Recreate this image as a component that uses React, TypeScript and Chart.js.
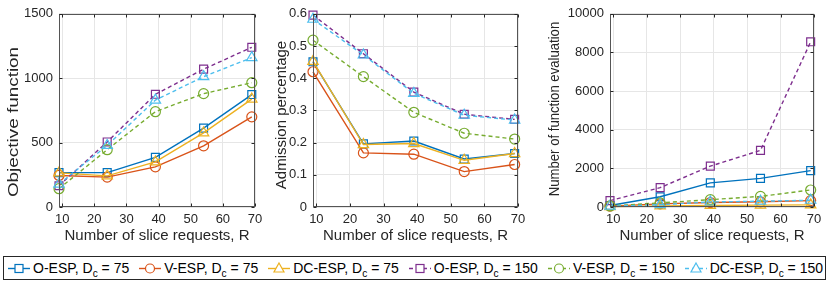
import React, { useEffect, useRef } from 'react';
import { Chart, registerables } from 'chart.js';

Chart.register(...registerables);

// ---------------- data ----------------
const xValues = [9, 24, 39, 54, 69];
const xTicks = [10, 20, 30, 40, 50, 60, 70];

const seriesNames = ['O-ESP', 'V-ESP', 'DC-ESP', 'O-ESP', 'V-ESP', 'DC-ESP'];
const dcValues = ['75', '75', '75', '150', '150', '150'];
const seriesColors = ['#0072BD', '#D95319', '#EDB120', '#7E2F8E', '#77AC30', '#4DBEEE'];
const seriesMarkers = ['rect', 'circle', 'triangle', 'rect', 'circle', 'triangle'];
const seriesDashed = [false, false, false, true, true, true];

// Objective function
const objO75 = [267, 267, 385, 612, 873];
const objV75 = [245, 232, 312, 475, 700];
const objDC75 = [265, 242, 350, 575, 838];
const objO150 = [165, 505, 875, 1070, 1240];
const objV150 = [142, 445, 740, 880, 965];
const objDC150 = [178, 478, 830, 1012, 1160];

// Admission percentage
const admO75 = [0.451, 0.196, 0.205, 0.149, 0.166];
const admV75 = [0.42, 0.168, 0.164, 0.11, 0.132];
const admDC75 = [0.452, 0.194, 0.197, 0.145, 0.166];
const admO150 = [0.596, 0.476, 0.357, 0.288, 0.272];
const admV150 = [0.518, 0.405, 0.294, 0.229, 0.211];
const admDC150 = [0.583, 0.472, 0.353, 0.285, 0.27];

// Number of function evaluation
const nfeO75 = [80, 530, 1250, 1480, 1880];
const nfeV75 = [45, 160, 230, 270, 330];
const nfeDC75 = [20, 55, 80, 95, 110];
const nfeO150 = [330, 1000, 2115, 2930, 8550];
const nfeV150 = [55, 215, 380, 550, 880];
const nfeDC150 = [40, 120, 260, 300, 350];

const objTicks = { min: 0, max: 1500, step: 500 };
const admTicks = { min: 0, max: 0.6, step: 0.1 };
const nfeTicks = { min: 0, max: 10000, step: 2000 };

const FONT = "'Liberation Sans', Arial, Helvetica, sans-serif";
const TEXT = '#262626';

const boxPlugin = {
  id: 'matlabBox',
  afterDraw(chart: any) {
    const { ctx, chartArea: a, scales } = chart;
    const l = Math.round(a.left) + 0.5;
    const r = Math.round(a.right) - 0.5;
    const t = Math.round(a.top) + 0.5;
    const b = Math.round(a.bottom) - 0.5;
    ctx.save();
    ctx.strokeStyle = '#555555';
    ctx.lineWidth = 1;
    ctx.strokeRect(l, t, r - l, b - t);
    ctx.strokeStyle = '#262626';
    ctx.beginPath();
    const tl = 3;
    scales.x.ticks.forEach((tk: any) => {
      const px = Math.round(scales.x.getPixelForValue(tk.value)) + 0.5;
      ctx.moveTo(px, b);
      ctx.lineTo(px, b - tl);
      ctx.moveTo(px, t);
      ctx.lineTo(px, t + tl);
    });
    scales.y.ticks.forEach((tk: any) => {
      const py = Math.round(scales.y.getPixelForValue(tk.value)) + 0.5;
      ctx.moveTo(l, py);
      ctx.lineTo(l + tl, py);
      ctx.moveTo(r, py);
      ctx.lineTo(r - tl, py);
    });
    ctx.stroke();
    ctx.restore();
  },
};

// y-axis title drawn with a stretch along the text direction
const yTitlePlugin = {
  id: 'yTitle',
  afterDraw(chart: any, _args: any, opts: any) {
    const ctx = chart.ctx;
    ctx.save();
    ctx.translate(opts.cx, opts.cy);
    ctx.rotate(-Math.PI / 2);
    ctx.scale(opts.sx, 1);
    ctx.font = `15px ${FONT}`;
    ctx.fillStyle = TEXT;
    ctx.textAlign = 'center';
    ctx.textBaseline = 'middle';
    ctx.fillText(opts.text, 0, 0);
    ctx.restore();
  },
};

type PanelProps = {
  left: number;
  width: number;
  yAxisWidth: number;
  padRight: number;
  padTop: number;
  titleX: number;
  titleY: number;
  titleStretch: number;
  yTitle: string;
  ticks: { min: number; max: number; step: number };
  series: number[][];
  decimals: number;
};

function Panel(props: PanelProps) {
  const ref = useRef<HTMLCanvasElement | null>(null);
  useEffect(() => {
    if (!ref.current) return;
    const n = props.series.length;
    const datasets = props.series.map((vals, i) => ({
      label: seriesNames[i] + ', Dc = ' + dcValues[i],
      data: xValues.map((x, j) => ({ x, y: vals[j] })),
      borderColor: seriesColors[i],
      borderWidth: 1.4,
      borderDash: seriesDashed[i] ? [4, 3] : [],
      pointStyle: seriesMarkers[i],
      pointRadius: seriesMarkers[i] === 'rect' ? 5.6 : seriesMarkers[i] === 'circle' ? 5 : 6,
      pointBorderWidth: 1.2,
      pointBorderColor: seriesColors[i],
      pointBackgroundColor: 'rgba(0,0,0,0)',
      fill: false,
      tension: 0,
      clip: false as any,
      order: n - i,
    }));
    const chart = new Chart(ref.current, {
      type: 'line',
      data: { datasets },
      plugins: [boxPlugin, yTitlePlugin],
      options: {
        animation: false,
        responsive: false,
        maintainAspectRatio: false,
        layout: { padding: { left: 0, right: props.padRight, top: props.padTop, bottom: 0 } },
        plugins: {
          legend: { display: false },
          tooltip: { enabled: false },
          yTitle: { text: props.yTitle, cx: props.titleX, cy: props.titleY, sx: props.titleStretch },
        },
        scales: {
          x: {
            type: 'linear',
            min: 9,
            max: 70,
            afterBuildTicks: (scale: any) => {
              scale.ticks = xTicks.map((v) => ({ value: v }));
            },
            afterFit: (scale: any) => {
              scale.height = 43;
            },
            grid: { color: '#e6e6e6', drawTicks: false },
            border: { display: false },
            ticks: {
              padding: 5,
              color: TEXT,
              font: { family: FONT, size: 13 },
              maxRotation: 0,
              autoSkip: false,
              callback: (v: any) => String(v),
            },
            title: {
              display: true,
              text: 'Number of slice requests, R',
              color: TEXT,
              font: { family: FONT, size: 15 },
              padding: { top: 0, bottom: 5 },
            },
          },
          y: {
            type: 'linear',
            min: props.ticks.min,
            max: props.ticks.max,
            afterFit: (scale: any) => {
              scale.width = props.yAxisWidth;
            },
            grid: { color: '#e6e6e6', drawTicks: false },
            border: { display: false },
            ticks: {
              stepSize: props.ticks.step,
              padding: 6,
              color: TEXT,
              font: { family: FONT, size: 13 },
              callback: (v: any) => (v === 0 ? '0' : Number(v).toFixed(props.decimals)),
            },
            title: { display: false },
          },
        },
      } as any,
    });
    return () => chart.destroy();
  }, []);
  return (
    <div style={{ position: 'absolute', left: props.left, top: 0, width: props.width, height: 250 }}>
      <canvas ref={ref} width={props.width} height={250} style={{ display: 'block' }} />
    </div>
  );
}

function LegendMarker({ i }: { i: number }) {
  const c = seriesColors[i];
  const m = seriesMarkers[i];
  return (
    <svg width={22} height={14} style={{ display: 'block', flex: '0 0 auto' }}>
      <line
        x1={0}
        y1={7.5}
        x2={22}
        y2={7.5}
        stroke={c}
        strokeWidth={1.4}
        strokeDasharray={seriesDashed[i] ? '4 3' : undefined}
      />
      {m === 'rect' && <rect x={7} y={3.5} width={8} height={8} fill="white" stroke={c} strokeWidth={1.2} />}
      {m === 'circle' && <circle cx={11} cy={7.5} r={4.5} fill="white" stroke={c} strokeWidth={1.2} />}
      {m === 'triangle' && <polygon points="11,2 16,11 6,11" fill="white" stroke={c} strokeWidth={1.2} />}
    </svg>
  );
}

function Legend() {
  return (
    <div
      style={{
        position: 'absolute',
        left: 3,
        top: 256,
        width: 823,
        height: 24,
        boxSizing: 'border-box',
        border: '1px solid #262626',
        display: 'flex',
        alignItems: 'center',
        justifyContent: 'space-between',
        padding: '0 2px 0 4px',
        fontFamily: FONT,
        fontSize: 14,
        color: '#000',
        whiteSpace: 'nowrap',
        background: '#fff',
      }}
    >
      {seriesNames.map((name, i) => (
        <div key={i} style={{ display: 'flex', alignItems: 'center' }}>
          <LegendMarker i={i} />
          <span style={{ marginLeft: 3 }}>
            {name}, D
            <sub style={{ fontSize: '0.72em', verticalAlign: '-0.4em', lineHeight: 0 }}>c</sub> = {dcValues[i]}
          </span>
        </div>
      ))}
    </div>
  );
}

export default function App() {
  return (
    <div style={{ position: 'absolute', left: 0, top: 0, width: 830, height: 282, background: '#fff', overflow: 'hidden' }}>
      <Panel
        left={0}
        width={270}
        yAxisWidth={59}
        padRight={15}
        padTop={10}
        titleX={14}
        titleY={122}
        titleStretch={1.26}
        yTitle="Objective function"
        ticks={objTicks}
        series={[objO75, objV75, objDC75, objO150, objV150, objDC150]}
        decimals={0}
      />
      <Panel
        left={270}
        width={270}
        yAxisWidth={43}
        padRight={22}
        padTop={12}
        titleX={12}
        titleY={115}
        titleStretch={1.0}
        yTitle="Admission percentage"
        ticks={admTicks}
        series={[admO75, admV75, admDC75, admO150, admV150, admDC150]}
        decimals={1}
      />
      <Panel
        left={540}
        width={290}
        yAxisWidth={70}
        padRight={16}
        padTop={10}
        titleX={15}
        titleY={109}
        titleStretch={0.875}
        yTitle="Number of function evaluation"
        ticks={nfeTicks}
        series={[nfeO75, nfeV75, nfeDC75, nfeO150, nfeV150, nfeDC150]}
        decimals={0}
      />
      <Legend />
    </div>
  );
}
